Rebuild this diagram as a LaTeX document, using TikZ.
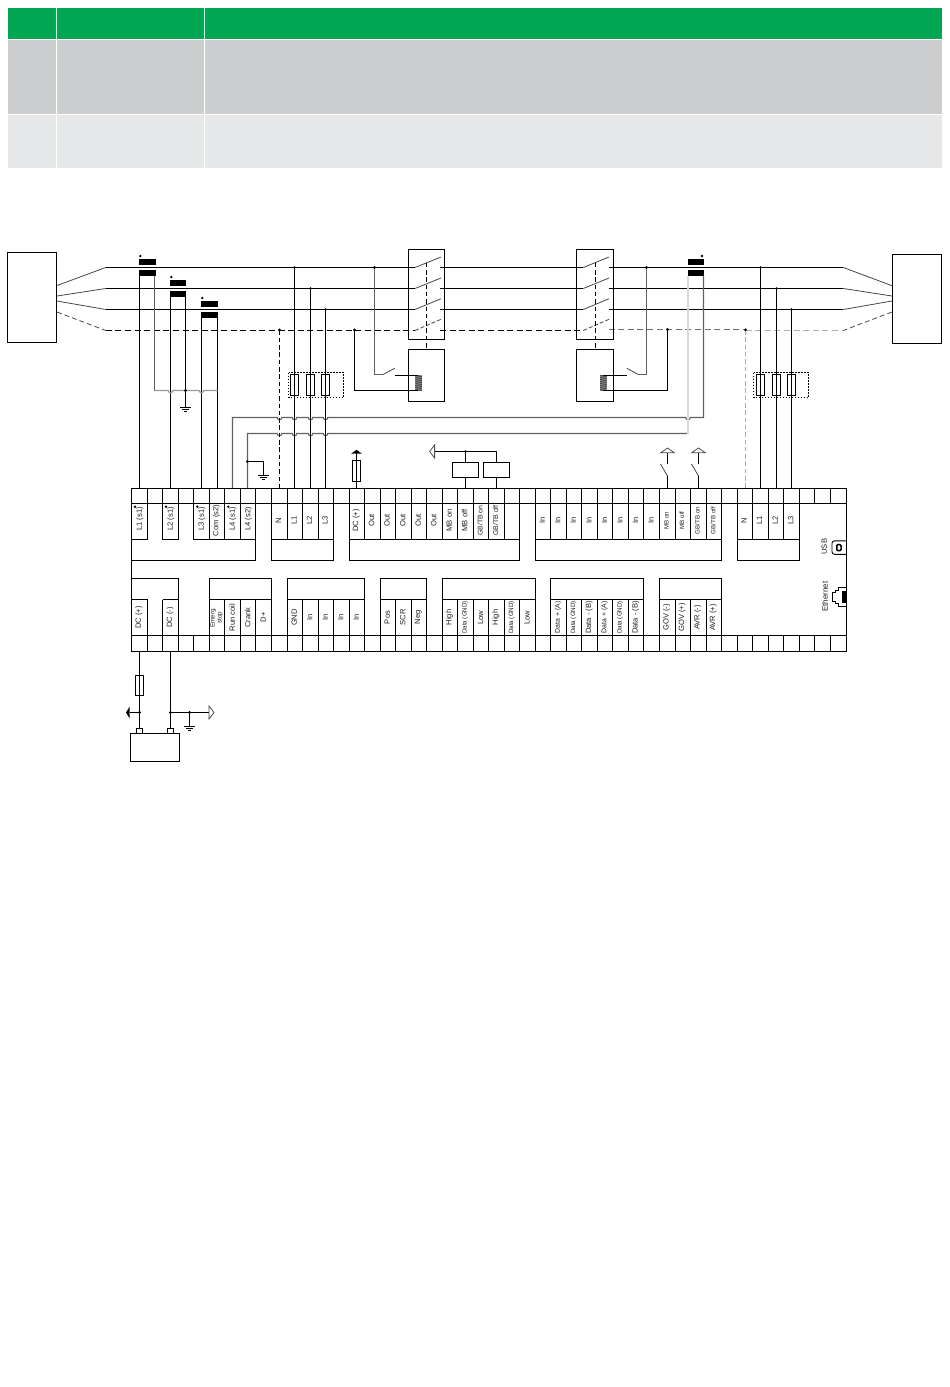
\documentclass[tikz,border=0pt]{standalone}
\usepackage{fontspec}
\setmainfont{Liberation Sans}
\definecolor{hgreen}{HTML}{00A651}
\definecolor{rowa}{HTML}{CCCDCF}
\definecolor{rowb}{HTML}{E6E7E8}
\tikzset{
  wire/.style={line width=1.15pt,black},
  gwire/.style={line width=1.1pt,black!62},
  gwirel/.style={line width=1.2pt,black!40},
  lgwire/.style={line width=1.8pt,black!15},
  dash wire/.style={line width=1.15pt,black,dash pattern=on 6pt off 3.6pt},
  vdash wire/.style={line width=1.1pt,black,dash pattern=on 4.5pt off 2.8pt},
  gdash/.style={line width=1.2pt,black!32,dash pattern=on 6pt off 3.6pt},
  gdashd/.style={line width=1.1pt,black!58,dash pattern=on 6pt off 3.6pt},
  blade/.style={line width=0.8pt,black!72},
  box/.style={line width=1.1pt,black},
  dotbox/.style={line width=0.9pt,black,dash pattern=on 1.5pt off 1.5pt},
  junction/.style={circle,fill=black,inner sep=0pt,minimum size=3.1pt},
  lbl/.style={rotate=90,inner sep=0pt,font=\fontsize{7.6}{8}\selectfont,text=black!88},
  lbls/.style={lbl,font=\fontsize{6.2}{6.5}\selectfont},
  lblm/.style={lbl,font=\fontsize{6.9}{7.2}\selectfont},
}
\newcommand{\colx}[1]{\pgfmathsetmacro{\cx}{131.5+15.52*(#1)}}
\newcommand{\gnd}[2]{\draw[wire] (#1-5.2,#2)--(#1+5.2,#2); \draw[wire] (#1-3.5,#2+2)--(#1+3.5,#2+2); \draw[wire] (#1-1.5,#2+4)--(#1+1.5,#2+4);}
\newcommand{\fuse}[3]{\draw[box,fill=none] (#1-4,#2) rectangle (#1+4,#3);}
\newcommand{\toplbl}[3][lbl]{\colx{#2}\node[#1] at (\cx+7.3,520.5) {#3};}
\newcommand{\botlbl}[3][lbl]{\colx{#2}\node[#1] at (\cx+7.5,617.5) {#3};}
\newcommand{\coil}[2]{%
  \fill[black!45] (#1,#2) rectangle (#1+6.4,#2+15.5);
  \foreach \k in {0,2,...,14}{\draw[black!85,line width=0.7pt] (#1,#2+\k+.6)--(#1+6.4,#2+\k+1.4);}
}
\begin{document}
\begin{tikzpicture}[x=1pt,y=-1pt]
\useasboundingbox (0,0) rectangle (950,1387);
\fill[white] (0,0) rectangle (950,1387);
% table
\fill[hgreen] (8,8) rectangle (56,39);
\fill[hgreen] (57,8) rectangle (204,39);
\fill[hgreen] (205,8) rectangle (942,39);
\fill[rowa] (8,40) rectangle (56,114);
\fill[rowa] (57,40) rectangle (204,114);
\fill[rowa] (205,40) rectangle (942,114);
\fill[rowb] (8,115) rectangle (56,168);
\fill[rowb] (57,115) rectangle (204,168);
\fill[rowb] (205,115) rectangle (942,168);
% sources
\node[draw,box,minimum width=49pt,minimum height=90pt,inner sep=0pt,anchor=north west,outer sep=0pt] (srcL) at (7.5,252.5) {};
\node[draw,box,minimum width=49pt,minimum height=89pt,inner sep=0pt,anchor=north west,outer sep=0pt] (srcR) at (892.5,254.5) {};
% fan-in
\draw[blade] (57,285.5)--(105.7,267.5);
\draw[blade] (57,296)--(105.7,288.5);
\draw[blade] (57,301)--(105.7,309.5);
\draw[blade,dash pattern=on 5pt off 3pt] (57,312)--(105.7,330.5);
\draw[blade] (892,285.7)--(843.3,267.5);
\draw[blade] (892,296)--(843.3,288.5);
\draw[blade] (892,301)--(843.3,309.5);
\draw[blade,dash pattern=on 5pt off 3pt] (892,312)--(843.3,330.5);
% buses
\foreach \y/\b in {267.5/257,288.5/278,309.5/298.7}{
  \draw[wire] (105.7,\y)--(415,\y);
  \draw[wire] (440,\y)--(583.3,\y);
  \draw[wire] (608.5,\y)--(843.3,\y);
  \draw[blade] (415,\y)--(441,\b);
  \draw[blade] (583.3,\y)--(609,\b);
}
\draw[dash wire] (105.7,330.5)--(415,330.5);
\draw[dash wire] (440,330.5)--(583.3,330.5);
\draw[blade,dash pattern=on 4pt off 2pt] (415,330.5)--(441,319.3);
\draw[blade,dash pattern=on 4pt off 2pt] (583.3,330.5)--(609,319.3);
\draw[gdashd] (608.5,329.5)--(745.5,329.5);
\draw[gdash] (745.5,330.5)--(843.3,330.5);
% breakers
\node[draw,box,inner sep=0pt,outer sep=0pt,minimum width=36pt,minimum height=90pt,anchor=north west] (cb1) at (408.5,249.5) {};
\node[draw,box,inner sep=0pt,outer sep=0pt,minimum width=36pt,minimum height=52pt,anchor=north west] (cb1c) at (408.5,349.5) {};
\node[draw,box,inner sep=0pt,outer sep=0pt,minimum width=37pt,minimum height=90pt,anchor=north west] (cb2) at (576.5,249.5) {};
\node[draw,box,inner sep=0pt,outer sep=0pt,minimum width=37pt,minimum height=52pt,anchor=north west] (cb2c) at (576.5,349.5) {};
\draw[vdash wire,line width=.9pt] (426.5,262.7)--(426.5,349.5);
\draw[vdash wire,line width=.9pt] (595.5,262.7)--(595.5,349.5);
% coils and control
\coil{415.4}{375}
\coil{600.2}{375}
\draw[gwire] (374.5,267.5)--(374.5,374.5)--(383,374.5);
\draw[blade] (383,374.5)--(394.7,368.3);
\draw[wire] (394.7,375.5)--(418,375.5);
\draw[wire] (354.5,330.5)--(354.5,390.5)--(418,390.5);
\draw[gwire] (646.5,267.5)--(646.5,374.5)--(638.3,374.5);
\draw[blade] (638.3,374.5)--(626.7,368.3);
\draw[wire] (626.7,375.5)--(603.3,375.5);
\draw[wire] (667.5,329.5)--(667.5,390.5)--(603.3,390.5);
\node[junction] at (374.5,267.5) {};
\node[junction] at (354.5,330) {};
\node[junction] at (646.5,267.5) {};
\node[junction] at (667.5,329.5) {};
% current transformers
\foreach \xa/\xb/\ya in {139/155.5/259,170/186/280,201/217.7/301,688/704/259}{
  \fill (\xa,\ya) rectangle (\xb,\ya+6);
  \fill (\xa,\ya+11) rectangle (\xb,\ya+17);
}
\foreach \x/\y in {140.3/256,171.3/277,202.3/298,702/256}{
  \node[junction,minimum size=2.6pt] at (\x,\y) {};
}
% CT wires
\draw[wire] (139.5,276)--(139.5,488.5);
\draw[wire] (170.5,297)--(170.5,488.5);
\draw[wire] (201.5,318)--(201.5,488.5);
\draw[wire] (217.5,318)--(217.5,488.5);
\draw[wire] (185.5,297)--(185.5,407.5);
\gnd{185.5}{407.5}
\draw[gwire] (154.5,276)--(154.5,390.5);
\draw[gwirel] (154.5,390.5)--(168.2,390.5) arc[start angle=180,end angle=0,radius=2.3]--(199.2,390.5) arc[start angle=180,end angle=0,radius=2.3]--(217.5,390.5);
\node[junction] at (185.5,390.5) {};
% gray CT return wires
\draw[gwire] (232.5,488.5)--(232.5,417.5)--(277.2,417.5) arc[start angle=180,end angle=0,radius=2.3]--(292.2,417.5) arc[start angle=180,end angle=0,radius=2.3]--(308.2,417.5) arc[start angle=180,end angle=0,radius=2.3]--(323.2,417.5) arc[start angle=180,end angle=0,radius=2.3]--(685.7,417.5) arc[start angle=180,end angle=0,radius=2.3]--(703.5,417.5)--(703.5,276);
\draw[gwire] (247.5,488.5)--(247.5,433.5)--(277.2,433.5) arc[start angle=180,end angle=0,radius=2.3]--(292.2,433.5) arc[start angle=180,end angle=0,radius=2.3]--(308.2,433.5) arc[start angle=180,end angle=0,radius=2.3]--(323.2,433.5) arc[start angle=180,end angle=0,radius=2.3]--(688,433.5);
\draw[lgwire] (688,434)--(688,276);
\draw[wire] (247.5,461.5)--(263.5,461.5)--(263.5,475);
\node[junction] at (247.5,461.5) {};
\gnd{263.5}{475.5}
% voltage taps
\draw[vdash wire] (279.5,330.5)--(279.5,488.5);
\node[junction] at (279.5,330) {};
\foreach \x/\y in {294.5/267.5,310.5/288.5,325.5/309.5,760.5/267.5,776.5/288.5,791.5/309.5}{
  \draw[wire] (\x,\y)--(\x,488.5);
  \node[junction,minimum size=2.8pt] at (\x,\y) {};
  \fuse{\x}{374.5}{395.5}
}
\draw[dotbox] (288.5,372.5) rectangle (343.5,397.5);
\draw[dotbox] (753.5,372.5) rectangle (808.5,397.5);
\draw[gdash,dash pattern=on 4.5pt off 2.8pt] (745.5,330)--(745.5,488.5);
\node[junction] at (745.5,329.8) {};
% DC fuse top
\draw[wire] (356.5,488.5)--(356.5,452);
\fuse{356.5}{460.5}{481.5}
\fill (351,453.7)--(362,453.7)--(356.5,449.8)--cycle;
% relays
\node[draw,box,inner sep=0pt,outer sep=0pt,minimum width=26pt,minimum height=15pt,anchor=north west] (rl1) at (452.5,462.5) {};
\node[draw,box,inner sep=0pt,outer sep=0pt,minimum width=26pt,minimum height=15pt,anchor=north west] (rl2) at (483.5,462.5) {};
\draw[wire] (434.5,451.5)--(496.5,451.5)--(rl2.north);
\draw[wire] (465.5,451.5)--(rl1.north);
\draw[wire] (rl1.south)--(465.5,488.5);
\draw[wire] (rl2.south)--(496.5,488.5);
\node[junction,minimum size=2.8pt] at (465.5,451.5) {};
\draw[line width=.8pt,black!70] (434.6,445)--(429.6,451.5)--(434.6,458)--cycle;
% open contacts
\foreach \x in {667.5,698.5}{
  \draw[wire] (\x,488.5)--(\x,476);
  \draw[blade] (\x,476)--(\x-7,464);
  \draw[wire] (\x,464.3)--(\x,452.7);
  \draw[line width=.8pt,black!70] (\x-6.7,452.7)--(\x,448)--(\x+6.7,452.7)--cycle;
}
% terminal block
\draw[box] (131.5,488.5) rectangle (846.5,651.5);
\draw[box] (131.5,503.5)--(846.5,503.5);
\draw[box] (131.5,635.5)--(846.5,635.5);
\foreach \i in {1,...,45}{
  \draw[box] ({floor(131.8+15.52*\i)+0.5},488.5)--({floor(131.8+15.52*\i)+0.5},503.5);
  \draw[box] ({floor(131.8+15.52*\i)+0.5},635.5)--({floor(131.8+15.52*\i)+0.5},651.5);
}
% upper groups
\newcommand{\uprect}[2]{\draw[box] ({floor(131.8+15.52*#1)+0.5},503.5)--({floor(131.8+15.52*#1)+0.5},560.5)--({floor(131.8+15.52*#2)+0.5},560.5)--({floor(131.8+15.52*#2)+0.5},503.5);}
\uprect{0}{8}
\uprect{9}{13}
\uprect{14}{25}
\uprect{26}{38}
\uprect{39}{43}
\newcommand{\upcells}[2]{\draw[box] ({floor(131.8+15.52*#1)+0.5},539.5)--({floor(131.8+15.52*#2)+0.5},539.5);
  \foreach \j in {#1,...,#2}{\draw[box] ({floor(131.8+15.52*\j)+0.5},503.5)--({floor(131.8+15.52*\j)+0.5},539.5);}}
\upcells{0}{1}\upcells{2}{3}\upcells{4}{8}\upcells{9}{13}\upcells{14}{25}\upcells{26}{38}\upcells{39}{43}
% lower groups
\newcommand{\lowrect}[2]{\draw[box] ({floor(131.8+15.52*#1)+0.5},635.5)--({floor(131.8+15.52*#1)+0.5},578.5)--({floor(131.8+15.52*#2)+0.5},578.5)--({floor(131.8+15.52*#2)+0.5},635.5);}
\lowrect{0}{3}\lowrect{5}{9}\lowrect{10}{15}\lowrect{16}{19}\lowrect{20}{26}\lowrect{27}{33}\lowrect{34}{38}
\newcommand{\lowcells}[2]{\draw[box] ({floor(131.8+15.52*#1)+0.5},599.5)--({floor(131.8+15.52*#2)+0.5},599.5);
  \foreach \j in {#1,...,#2}{\draw[box] ({floor(131.8+15.52*\j)+0.5},599.5)--({floor(131.8+15.52*\j)+0.5},635.5);}}
\lowcells{0}{1}\lowcells{2}{3}\lowcells{5}{9}\lowcells{10}{15}\lowcells{16}{19}\lowcells{20}{26}\lowcells{27}{33}\lowcells{34}{38}
% upper labels
\node[lbl] (tL1) at (140,519) {L1 (s1)};
\node[lbl] (tL2) at (171,519) {L2 (s1)};
\node[lbl] (tL3) at (202,519) {L3 (s1)};
\toplbl{5}{Com (s2)}
\node[lbl] (tL4) at (233,519) {L4 (s1)};
\node[lbl] (tL4b) at (248.5,519) {L4 (s2)};
\toplbl{9}{N}\toplbl{10}{L1}\toplbl{11}{L2}\toplbl{12}{L3}
\toplbl{14}{DC (+)}
\foreach \n in {15,...,19}{\toplbl{\n}{Out}}
\toplbl{20}{MB on}\toplbl{21}{MB off}\toplbl[lblm]{22}{GB/TB on}\toplbl[lblm]{23}{GB/TB off}
\foreach \n in {26,...,33}{\toplbl{\n}{In}}
\toplbl[lbls]{34}{MB on}\toplbl[lbls]{35}{MB off}\toplbl[lbls]{36}{GB/TB on}\toplbl[lbls]{37}{GB/TB off}
\toplbl{39}{N}\toplbl{40}{L1}\toplbl{41}{L2}\toplbl{42}{L3}
% polarity dots on terminals
\foreach \x/\y in {135/506.7,166/506.7,197.3/506.7,228.3/506.7}{\node[junction,minimum size=2.6pt] at (\x,\y) {};}
% lower labels
\botlbl{0}{DC (+)}\botlbl{2}{DC (-)}
\colx{5}\node[lbl,align=center,font=\fontsize{6.3}{6.9}\selectfont] at (\cx+7.5,617.5) {Emerg.\\stop};
\botlbl{6}{Run coil}\botlbl{7}{Crank}\botlbl{8}{D+}
\botlbl{10}{GND}\foreach \n in {11,...,14}{\botlbl{\n}{In}}
\botlbl{16}{Pos}\botlbl{17}{SCR}\botlbl{18}{Neg}
\botlbl{20}{High}\botlbl[lbls]{21}{Data (GND)}\botlbl{22}{Low}\botlbl{23}{High}\botlbl[lbls]{24}{Data (GND)}\botlbl{25}{Low}
\botlbl[lblm]{27}{Data + (A)}\botlbl[lbls]{28}{Data (GND)}\botlbl{29}{Data - (B)}\botlbl[lblm]{30}{Data + (A)}\botlbl[lbls]{31}{Data (GND)}\botlbl{32}{Data - (B)}
\botlbl{34}{GOV (-)}\botlbl{35}{GOV (+)}\botlbl{36}{AVR (-)}\botlbl{37}{AVR (+)}
% USB
\node[lbl] (usb) at (824.3,546.7) {USB};
\draw[line width=.9pt,rounded corners=2.5pt] (846,540.8)--(832,540.8)--(832,554.3)--(846,554.3);
\draw[line width=1.5pt,rounded corners=1pt] (836.8,544.6)--(841,544.6)--(841,550.6)--(836.8,550.6)--cycle;
% Ethernet
\node[lbl,font=\fontsize{8}{8.4}\selectfont] (eth) at (825,596.7) {Ethernet};
\draw[line width=1pt] (846.5,587)--(838.5,587)--(838.5,590)--(835.5,590)--(835.5,592.5)--(832.5,592.5)--(832.5,601)--(835.5,601)--(835.5,603.5)--(838.5,603.5)--(838.5,606)--(846.5,606);
\fill (842,590.5) rectangle (846.5,603);
% lower wiring
\draw[wire] (139.5,651.5)--(139.5,728.5);
\fuse{139.5}{675.5}{695.5}
\draw[wire] (170.5,651.5)--(170.5,728.5);
\draw[wire] (170.5,712.5)--(209,712.5);
\draw[wire] (139.5,712.5)--(129.7,712.5);
\fill (129.7,706.5)--(129.7,718.5)--(126,712.5)--cycle;
\node[junction] at (139.5,712.5) {};
\node[junction] at (170.5,712.5) {};
\node[junction] at (189.5,712.5) {};
\draw[wire] (189.5,712.5)--(189.5,726);
\gnd{189.5}{726.5}
\draw[line width=.8pt,black!70] (209,706)--(214,712.5)--(209,719)--cycle;
% battery
\node[draw,box,inner sep=0pt,outer sep=0pt,minimum width=49pt,minimum height=28pt,anchor=north west] (bat) at (130.5,733.5) {};
\draw[box] (136.5,733.5)--(136.5,728.5)--(142.5,728.5)--(142.5,733.5);
\draw[box] (167.5,733.5)--(167.5,728.5)--(173.5,728.5)--(173.5,733.5);
\end{tikzpicture}
\end{document}
